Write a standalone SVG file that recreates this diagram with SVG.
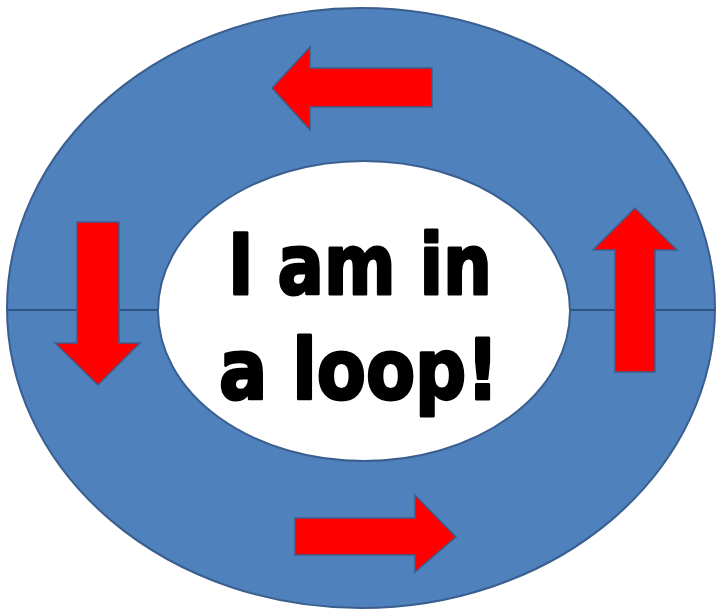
<svg xmlns="http://www.w3.org/2000/svg" width="720" height="611" viewBox="0 0 720 611">
<style>
.arrow{fill:#ff0000;stroke:#3a5f8f;stroke-width:1.5;stroke-linejoin:miter}
.t{font-family:"DejaVu Sans","Liberation Sans",sans-serif;font-weight:bold;fill:#000;stroke:#000;stroke-width:3;stroke-linejoin:round;text-anchor:middle}
</style>
<rect width="720" height="611" fill="#ffffff"/>
<g id="ring">
<ellipse cx="361" cy="308" rx="354" ry="300" fill="#4f81bd" stroke="#3a5f8f" stroke-width="2"/>
<line x1="7" y1="310" x2="715" y2="310" stroke="#2e5484" stroke-width="2"/>
</g>
<g id="center">
<ellipse cx="364" cy="311" rx="206" ry="150" fill="#ffffff" stroke="#3a5f8f" stroke-width="2"/>
<text class="t" x="360" y="294" font-size="84" textLength="264" lengthAdjust="spacingAndGlyphs">I am in</text>
<text class="t" x="359" y="399" font-size="84" textLength="280" lengthAdjust="spacingAndGlyphs">a loop!</text>
</g>
<g id="connectors">
<polygon id="arrow-top" class="arrow" points="432,68 310,68 310,47 272,88 310,130 310,107 432,107"/>
<polygon id="arrow-right" class="arrow" points="615,372 615,250 593,250 635,208 677,250 655,250 655,372"/>
<polygon id="arrow-bottom" class="arrow" points="295,518 415,518 415,495 456,537 415,572 415,555 295,555"/>
<polygon id="arrow-left" class="arrow" points="77,222 119,222 119,343 140,343 98,385 55,343 77,343"/>
</g>
</svg>
